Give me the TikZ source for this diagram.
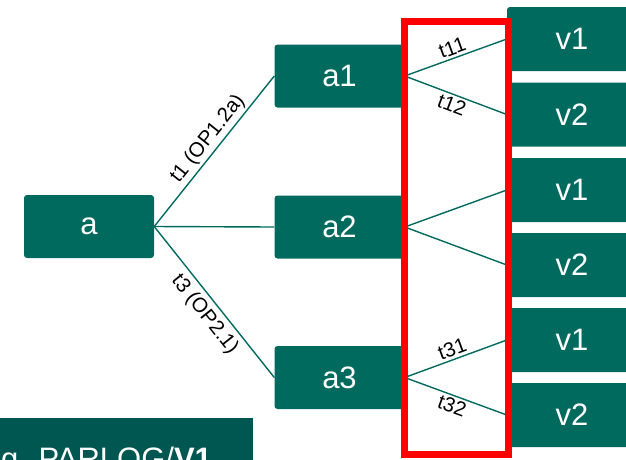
\documentclass[tikz,border=0pt]{standalone}
\usepackage{fontspec}
\setmainfont{Liberation Sans}
\definecolor{boxc}{RGB}{0,106,95}
\definecolor{darkc}{RGB}{0,86,80}
\begin{document}
\begin{tikzpicture}[x=1pt,y=-1pt,
  box/.style={fill=boxc, rounded corners=3pt, minimum width=130pt, minimum height=63pt,
              text=white, font=\fontsize{31}{37}\selectfont, inner sep=0pt},
  vbox/.style={box, minimum height=64pt},
  conn/.style={draw=boxc, line width=1.4pt},
  lbl/.style={font=\fontsize{20.5}{24}\selectfont, sloped, inner sep=2.5pt, text=black}]
\useasboundingbox (0,0) rectangle (626,459);
\clip (0,0) rectangle (626,459);
% left boxes
\node[box] (a) at (89,226.5) {a};
\node[box] (a1) at (339.5,76) {a1};
\node[box] (a2) at (339.5,227) {a2};
\node[box] (a3) at (339.5,377.5) {a3};
% right boxes
\node[vbox] (v11) at (572,39) {v1};
\node[vbox] (v12) at (572,114.5) {v2};
\node[vbox] (v21) at (572,190) {v1};
\node[vbox] (v22) at (572,265) {v2};
\node[vbox] (v31) at (572,340) {v1};
\node[vbox] (v32) at (572,415) {v2};
% connectors
\draw[conn] (a.east) -- node[lbl, above, pos=0.53] {t1 (OP1.2a)} (a1.west);
\draw[conn] (a.east) -- (a2.west);
\draw[conn] (a.east) -- node[lbl, below, pos=0.52, inner sep=5pt] {t3 (OP2.1)} (a3.west);
\draw[conn] (a1.east) -- node[lbl, above, pos=0.5] {t11} (v11.west);
\draw[conn] (a1.east) -- node[lbl, below, pos=0.5] {t12} (v12.west);
\draw[conn] (a2.east) -- (v21.west);
\draw[conn] (a2.east) -- (v22.west);
\draw[conn] (a3.east) -- node[lbl, above, pos=0.5] {t31} (v31.west);
\draw[conn] (a3.east) -- node[lbl, below, pos=0.5] {t32} (v32.west);
% caption box
\node[fill=darkc, anchor=north west, minimum width=253pt, minimum height=60pt, inner sep=0pt] (cap) at (0,418) {};
\node[anchor=base west, text=white, font=\fontsize{31}{37}\selectfont, inner sep=0pt] (capt) at (1,469) {g. PARLOG/\textbf{V1}};
% red frame
\draw[red, line width=7pt] (404,21) rectangle (508,454);
\end{tikzpicture}
\end{document}
